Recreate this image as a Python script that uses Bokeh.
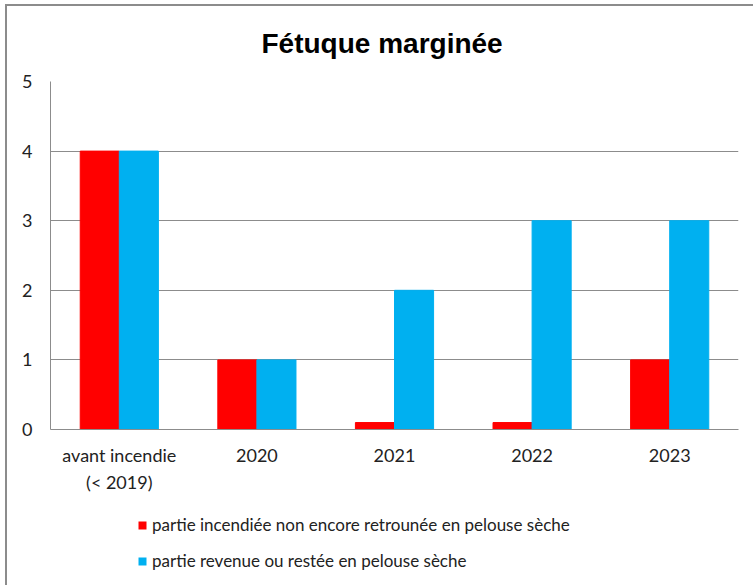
from bokeh.plotting import figure
from bokeh.layouts import column
from bokeh.models import FactorRange, Legend, LegendItem, ColumnDataSource, FixedTicker, Range1d
from bokeh.transform import dodge
from bokeh.embed import file_html
from bokeh.resources import INLINE

categories = ["avant incendie\n(< 2019)", "2020", "2021", "2022", "2023"]
burned = [4, 1, 0.1, 0.1, 1]
recovered = [4, 1, 2, 3, 3]
series_names = ["partie incendiée non encore retrounée en pelouse sèche",
                "partie revenue ou restée en pelouse sèche"]
series_colors = ["#FF0000", "#00B0F0"]
y_ticks = [0, 1, 2, 3, 4, 5]

src = ColumnDataSource(dict(cat=categories, burned=burned, recovered=recovered))

p = figure(x_range=FactorRange(*categories, range_padding=0), y_range=(0, 5),
           width=746, height=500, output_backend="svg", toolbar_location=None,
           min_border_left=43, min_border_right=15, min_border_top=75, min_border_bottom=77)

p.title.text = "Fétuque marginée"
p.title.text_font = "Liberation Sans"
p.title.text_font_size = "28px"
p.title.text_font_style = "bold"
p.title.align = "left"
p.title.offset = 211
p.title.standoff = 42
p.title.vertical_align = "top"
p.title.text_color = "#000000"

r1 = p.vbar(x=dodge("cat", -0.142, range=p.x_range), top="burned", width=0.284, source=src,
            fill_color=series_colors[0], line_color=series_colors[0])
r2 = p.vbar(x=dodge("cat", 0.142, range=p.x_range), top="recovered", width=0.284, source=src,
            fill_color=series_colors[1], line_color=series_colors[1])

p.outline_line_color = None
p.xgrid.grid_line_color = None
p.ygrid.grid_line_color = "#8c8c8c"
p.ygrid.ticker = FixedTicker(ticks=y_ticks)
p.yaxis.ticker = FixedTicker(ticks=y_ticks)

for ax in (p.xaxis[0], p.yaxis[0]):
    ax.axis_line_color = "#8c8c8c"
    ax.major_tick_line_color = None
    ax.minor_tick_line_color = None
    ax.major_label_text_font = "Lato"
    ax.major_label_text_font_size = "18px"
    ax.major_label_text_color = "#222222"
p.yaxis.major_label_standoff = 12
p.xaxis.major_label_standoff = 8
p.xaxis.major_label_text_line_height = 1.24

# legend strip below the chart: same series, y range chosen so that only the legend shows
lf = figure(x_range=p.x_range, y_range=Range1d(10, 11),
            width=746, height=79, output_backend="svg", toolbar_location=None,
            x_axis_type=None, y_axis_type=None,
            min_border_left=0, min_border_right=0, min_border_top=0, min_border_bottom=0)
lf.outline_line_color = None
lf.xgrid.grid_line_color = None
lf.ygrid.grid_line_color = None
lr1 = lf.vbar(x=dodge("cat", -0.142, range=p.x_range), top="burned", width=0.284, source=src,
              fill_color=series_colors[0], line_alpha=0)
lr2 = lf.vbar(x=dodge("cat", 0.142, range=p.x_range), top="recovered", width=0.284, source=src,
              fill_color=series_colors[1], line_alpha=0)
legend = Legend(items=[LegendItem(label=series_names[0], renderers=[lr1]),
                       LegendItem(label=series_names[1], renderers=[lr2])],
                location=(87, 14), orientation="vertical",
                glyph_width=10, glyph_height=10, label_standoff=5,
                spacing=15, padding=0, margin=0,
                label_text_font="Lato", label_text_font_size="17px",
                label_text_color="#222222", border_line_color=None,
                background_fill_alpha=0)
lf.add_layout(legend)

layout = column(p, lf, spacing=0)
layout.styles = {"margin-left": "5px", "margin-top": "4px",
                 "border-left": "2px solid #8c8c8c", "border-top": "2px solid #8c8c8c"}

open("out.html", "w").write(file_html(layout, INLINE))
